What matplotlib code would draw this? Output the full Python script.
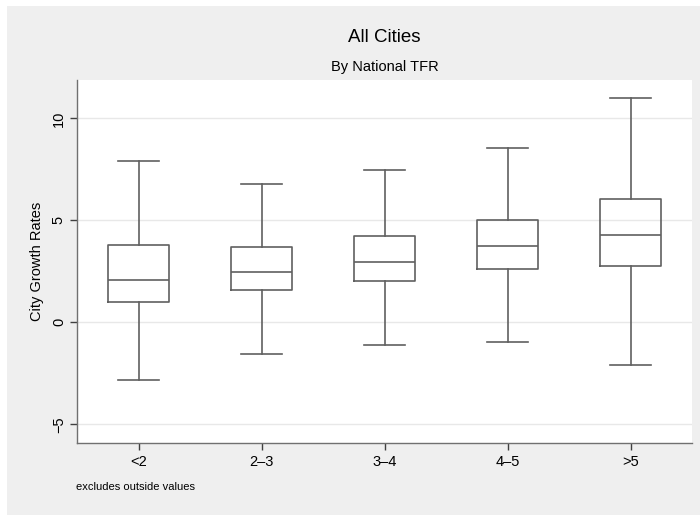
import matplotlib
matplotlib.use("Agg")
import matplotlib.pyplot as plt
from matplotlib.patches import Rectangle

plt.rcParams['font.family'] = ['Liberation Sans', 'DejaVu Sans']

categories = ["<2", "2\u20133", "3\u20134", "4\u20135", ">5"]
whislo = [-2.83, -1.57, -1.13, -0.98, -2.11]
q1 = [0.98, 1.58, 2.02, 2.61, 2.77]
med = [2.06, 2.48, 2.97, 3.75, 4.29]
q3 = [3.77, 3.69, 4.25, 5.00, 6.06]
whishi = [7.92, 6.78, 7.48, 8.54, 10.98]
yticks = [-5, 0, 5, 10]
ytick_labels = ["\u22125", "0", "5", "10"]

W, H = 700, 515
fig = plt.figure(figsize=(W / 100, H / 100), dpi=100)
fig.patch.set_facecolor("white")
bg = Rectangle((7 / W, 0), 1 - 7 / W, 1 - 6 / H, transform=fig.transFigure,
               facecolor="#efefef", edgecolor="none", zorder=-10)
fig.patches.append(bg)

ax = fig.add_axes([77 / W, 1 - 443 / H, (692 - 77) / W, (443 - 80) / H])
ax.set_zorder(1)
ax.set_facecolor("white")

edge = "#606060"
stats = []
for i, c in enumerate(categories):
    stats.append(dict(label=c, whislo=whislo[i], q1=q1[i], med=med[i], q3=q3[i], whishi=whishi[i], fliers=[]))

ax.bxp(stats, positions=range(1, len(categories) + 1), widths=0.5, showfliers=False,
       boxprops=dict(color=edge, linewidth=1.2),
       medianprops=dict(color=edge, linewidth=1.2),
       whiskerprops=dict(color=edge, linewidth=1.2),
       capprops=dict(color=edge, linewidth=1.2),
       capwidths=0.333)

ax.set_xlim(0.5, 5.5)
ax.set_ylim(-5.92, 11.88)
ax.set_yticks(yticks)
ax.set_yticklabels(ytick_labels, rotation=90, va="center", fontsize=10.5)
ax.set_xticks(range(1, len(categories) + 1))
ax.set_xticklabels(categories, fontsize=10.5)
ax.yaxis.grid(True, color="#e8e8e8", linewidth=1.0)
ax.set_axisbelow(True)
for s in ["top", "right"]:
    ax.spines[s].set_visible(False)
for s in ["left", "bottom"]:
    ax.spines[s].set_color("#707070")
    ax.spines[s].set_linewidth(1.0)
ax.tick_params(axis="both", direction="out", length=5, color="#404040", width=1.0, pad=4)
ax.tick_params(axis="y", pad=3)
ax.set_ylabel("City Growth Rates", fontsize=10.5, labelpad=6)

fig.text(0.5 * (77 + 692) / W, 1 - 38 / H, "All Cities", ha="center", va="center", fontsize=13.5)
fig.text(0.5 * (77 + 692) / W, 1 - 67 / H, "By National TFR", ha="center", va="center", fontsize=10.5)
fig.text(76 / W, 1 - 487 / H, "excludes outside values", ha="left", va="center", fontsize=8)

fig.savefig("out.png", dpi=100)
